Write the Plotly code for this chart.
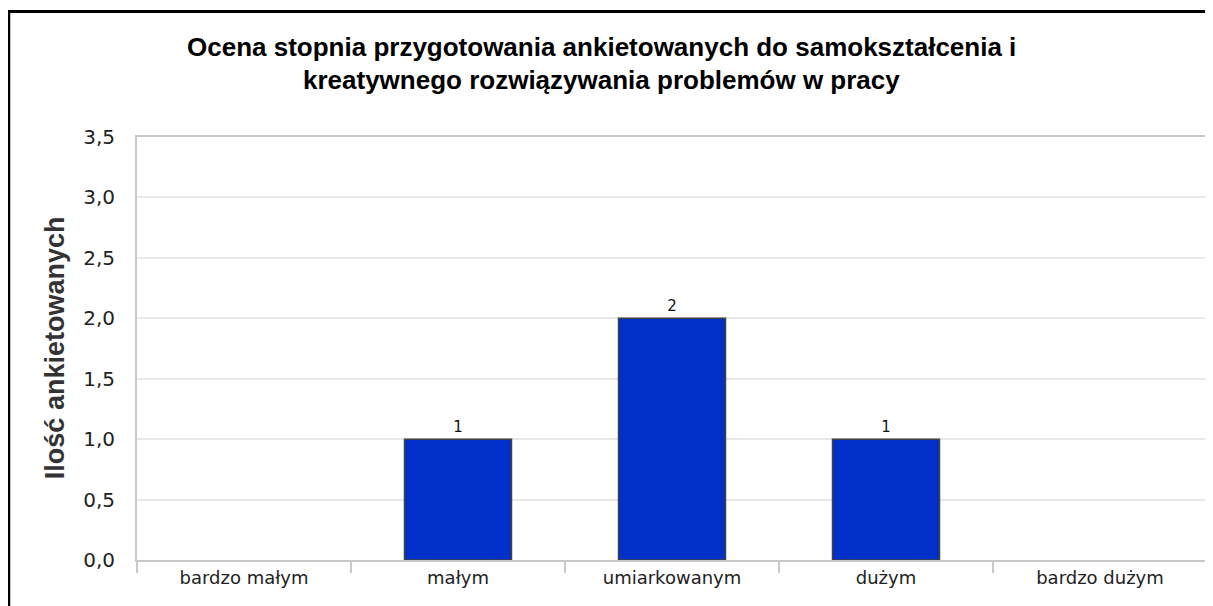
import plotly.graph_objects as go

categories = ['bardzo małym', 'małym', 'umiarkowanym', 'dużym', 'bardzo dużym']
counts = [0, 1, 2, 1, 0]
title_lines = [
    'Ocena stopnia przygotowania ankietowanych do samokształcenia i',
    'kreatywnego rozwiązywania problemów w pracy',
]
y_title = 'Ilość ankietowanych'

# the page body adds an 8px margin, so the figure is 8px smaller and
# every pixel position below is given in page coordinates minus 8
OFF = 8
W, H = 1213 - OFF, 606 - OFF
L, R, T, B = 137 - OFF, 4, 137 - OFF, 606 - 560
pw, ph = W - L - R, H - T - B


def px_x(x):
    return (x - OFF - L) / pw


def px_y(y):
    return (H - B - (y - OFF)) / ph


fig = go.Figure()
fig.add_trace(go.Bar(
    x=categories,
    y=counts,
    text=[str(v) if v else '' for v in counts],
    textposition='outside',
    textfont=dict(family='DejaVu Sans', size=15, color='#111111'),
    cliponaxis=False,
    marker=dict(color='#0030c8',
                line=dict(color='#404040', width=[1.5 if v else 0 for v in counts])),
    hoverinfo='skip',
))

fig.update_layout(
    width=W,
    height=H,
    margin=dict(l=L, r=R, t=T, b=B),
    paper_bgcolor='white',
    plot_bgcolor='white',
    showlegend=False,
    bargap=0.5,
    separators=',.',
    font=dict(family='DejaVu Sans', size=15, color='#333333'),
)
fig.update_xaxes(
    type='category',
    tickson='boundaries',
    ticks='outside',
    ticklen=11,
    tickwidth=2,
    tickcolor='#c8c8c8',
    showline=True,
    linecolor='#c8c8c8',
    linewidth=2,
    mirror=True,
    showgrid=False,
    tickfont=dict(family='DejaVu Sans', size=18, color='#222222'),
)
fig.update_yaxes(
    range=[0, 3.5],
    dtick=0.5,
    tickformat='.1f',
    showgrid=True,
    gridcolor='#e8e8e8',
    gridwidth=2,
    showline=True,
    linecolor='#c8c8c8',
    linewidth=2,
    mirror=True,
    zeroline=False,
    ticks='',
    ticklabelstandoff=16,
    tickfont=dict(family='DejaVu Sans', size=20, color='#222222'),
)

for line, yc in zip(title_lines, [47, 80]):
    fig.add_annotation(
        text=f'<b>{line}</b>', xref='paper', yref='paper',
        x=px_x(602), y=px_y(yc), xanchor='center', yanchor='middle',
        showarrow=False,
        font=dict(family='Liberation Sans', size=26, color='#000000'),
    )

fig.add_annotation(
    text=f'<b>{y_title}</b>', xref='paper', yref='paper',
    x=px_x(55), y=px_y(348), xanchor='center', yanchor='middle',
    textangle=-90, showarrow=False,
    font=dict(family='Liberation Sans', size=27, color='#333333'),
)

# outer frame, cropped on the right and bottom like the source image
fig.add_shape(
    type='rect', xref='paper', yref='paper',
    x0=px_x(8.5), x1=px_x(1213 + 30), y0=px_y(606 + 30), y1=px_y(11.5),
    line=dict(color='#000000', width=3), fillcolor='rgba(0,0,0,0)',
    layer='above',
)

fig.write_html('out.html')
